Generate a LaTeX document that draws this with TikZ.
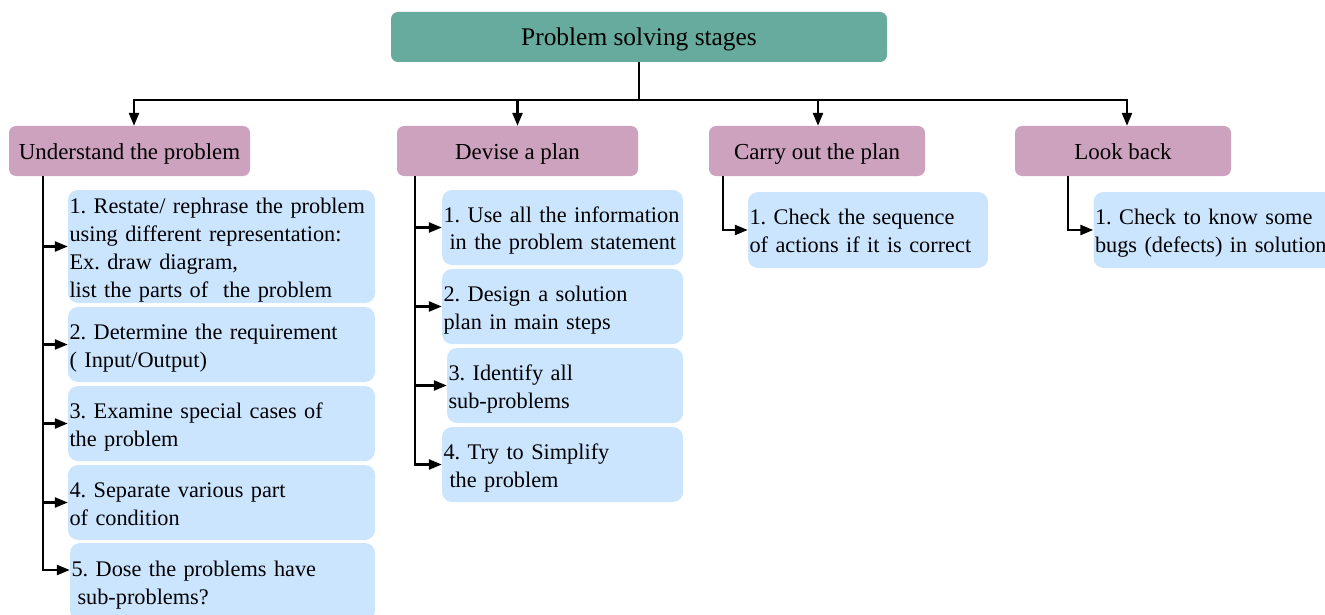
\documentclass[tikz,border=0pt]{standalone}
\usepackage{fontspec}
\setmainfont{Liberation Serif}
\usetikzlibrary{arrows.meta,calc}
\definecolor{teal0}{HTML}{67AB9F}
\definecolor{pink0}{HTML}{CDA2BE}
\definecolor{blue0}{HTML}{CCE5FF}
\frenchspacing
\hyphenpenalty=10000
% one unbreakable line of an item text
\newcommand\oneline[1]{\mbox{#1}}
\tikzset{
  title/.style={fill=teal0, rounded corners=7pt, minimum width=496pt, minimum height=50pt,
    inner sep=0pt, text height=18pt, text depth=0pt, font=\fontsize{25.4}{30}\selectfont},
  stage/.style={fill=pink0, rounded corners=7pt, minimum height=50pt, inner sep=0pt,
    text height=18pt, text depth=0pt, font=\fontsize{22.9}{28}\selectfont},
  item/.style={fill=blue0, rounded corners=10pt, inner xsep=1.5pt, inner ysep=0pt,
    align=left, text height=16pt, font=\fontsize{22.3}{28}\selectfont},
  two/.style={text depth=27pt},
  four/.style={text depth=83pt},
  conn/.style={line width=2.5pt},
  arr/.style={conn, -{Triangle[length=13pt,width=10pt]}},
}
\begin{document}
\begin{tikzpicture}[x=1pt, y=-1pt]
\useasboundingbox (0,0) rectangle (1325,615);
\clip (0,0) rectangle (1325,615);

% root and the four stages
\node[title] (top) at (639,37) {Problem solving stages};
\node[stage, minimum width=241pt] (u) at (129.5,151) {Understand the problem};
\node[stage, minimum width=241pt] (d) at (517.5,151) {Devise a plan};
\node[stage, minimum width=216pt] (c) at (817,151) {Carry out the plan};
\node[stage, minimum width=216pt] (l) at (1123,151) {Look back};

% Understand the problem
\node[item, four, text width=304pt, minimum height=113pt] (u1) at (221.5,246.5)
  {\oneline{1. Restate/ rephrase the problem}\\\oneline{using different representation:}\\Ex. draw diagram,\\\oneline{list the parts of~ the problem}};
\node[item, two, text width=304pt, minimum height=75pt] (u2) at (221.5,344.5)
  {\oneline{2. Determine the requirement}\\( Input/Output)};
\node[item, two, text width=304pt, minimum height=75pt] (u3) at (221.5,423.5)
  {\oneline{3. Examine special cases of}\\the problem};
\node[item, two, text width=304pt, minimum height=75pt] (u4) at (221.5,502.5)
  {\oneline{4. Separate various part}\\of condition};
\node[item, two, text width=302pt, minimum height=78pt] (u5) at (222.5,582)
  {\oneline{5. Dose the problems have}\\\hspace*{6pt}sub-problems?};

% Devise a plan
\node[item, two, text width=238pt, minimum height=75pt] (d1) at (562.5,227.5)
  {\oneline{1. Use all the information}\\\oneline{\hspace*{6pt}in the problem statement}};
\node[item, two, text width=238pt, minimum height=75pt] (d2) at (562.5,306.5)
  {\oneline{2. Design a solution}\\\oneline{plan in main steps}};
\node[item, two, text width=233pt, minimum height=75pt] (d3) at (565,385.5)
  {3. Identify all\\sub-problems};
\node[item, two, text width=238pt, minimum height=75pt] (d4) at (562.5,464.5)
  {\oneline{4. Try to Simplify}\\\hspace*{6pt}the problem};

% Carry out the plan
\node[item, two, text width=237pt, minimum height=76pt] (c1) at (868,230)
  {\oneline{1. Check the sequence}\\\oneline{of actions if it is correct}};

% Look back
\node[item, two, text width=250pt, minimum height=76pt] (l1) at (1220,230)
  {\oneline{1. Check to know some}\\\oneline{bugs (defects) in solution}};

% root to stages
\coordinate (bus) at (639,100);
\draw[conn] (top.south) -- (bus);
\draw[arr] (bus) -| ([xshift=4.5pt]u.north);
\draw[arr] (bus) -| (d.north);
\draw[arr] (bus) -| ([xshift=1pt]c.north);
\draw[arr] (bus) -| ([xshift=4pt]l.north);

% stage spines
\coordinate (us) at (43,176);
\coordinate (ds) at (415,176);
\coordinate (cs) at (723,176);
\coordinate (ls) at (1068,176);
\foreach \n in {u1,u2,u3,u4} \draw[arr] (us) |- (\n.west);
\draw[arr] (us) |- ([yshift=12pt]u5.west);
\foreach \n in {d1,d2,d3,d4} \draw[arr] (ds) |- (\n.west);
\draw[arr] (cs) |- (c1.west);
\draw[arr] (ls) |- (l1.west);
\end{tikzpicture}
\end{document}
